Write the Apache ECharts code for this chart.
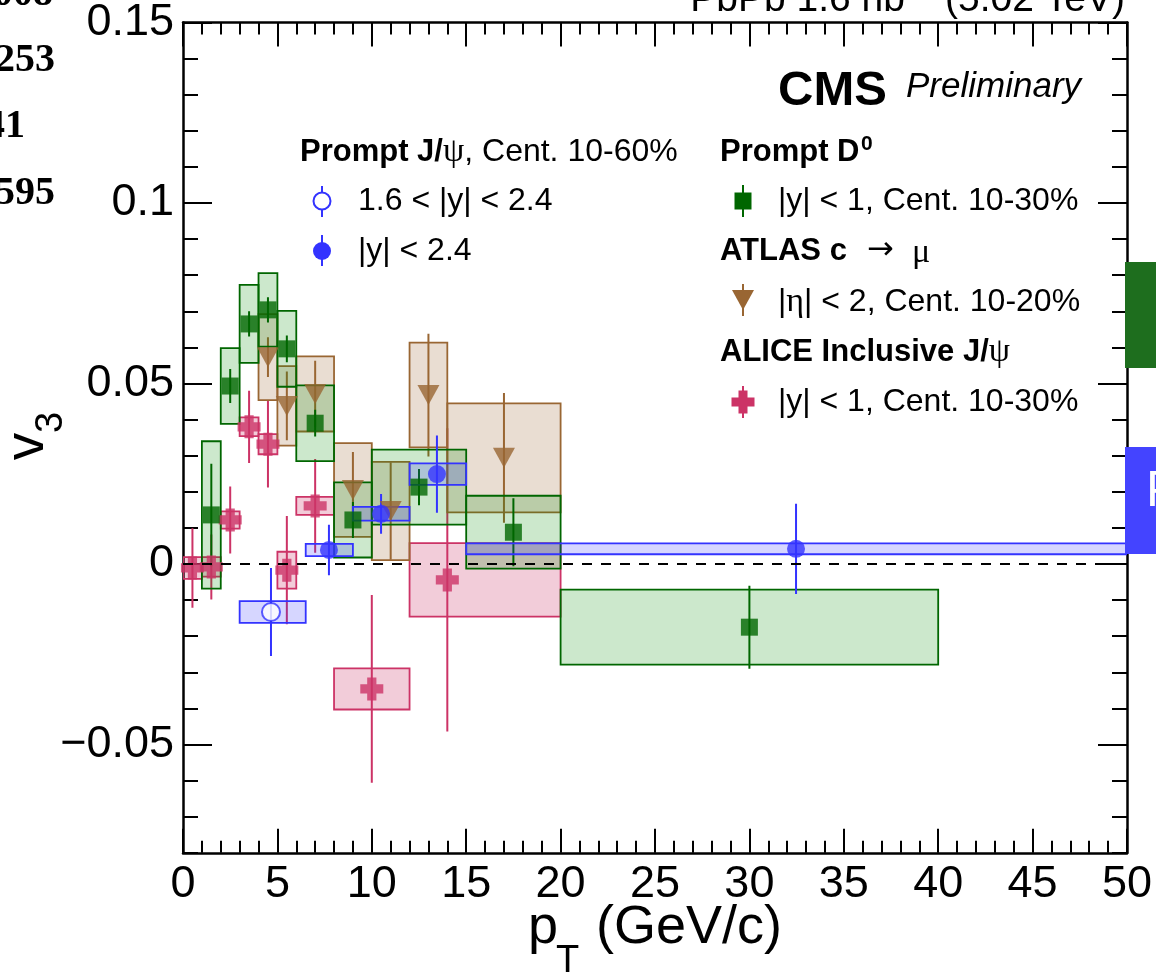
<!DOCTYPE html>
<html>
<head>
<meta charset="utf-8">
<script src="https://cdn.jsdelivr.net/npm/echarts@6/dist/echarts.min.js"></script>
<style>
  html, body { margin: 0; padding: 0; background: #fff; }
  #chart { width: 1156px; height: 975px; }
</style>
</head>
<body>
<div id="chart"></div>
<script>
// ---- axis ticks ----
const xTickValues = [0, 5, 10, 15, 20, 25, 30, 35, 40, 45, 50];
const xTickLabels = ['0', '5', '10', '15', '20', '25', '30', '35', '40', '45', '50'];
const yTickValues = [-0.05, 0, 0.05, 0.1, 0.15];
const yTickLabels = ['\u22120.05', '0', '0.05', '0.1', '0.15'];

// ---- CMS prompt D0, |y| < 1, Cent. 10-30% ----
const d0Pt    = [1.5, 2.5, 3.5, 4.5, 5.5, 7, 9, 12.5, 17.5, 30];
const d0V3    = [0.0136, 0.0493, 0.0665, 0.0704, 0.0596, 0.0390, 0.0122, 0.0213, 0.0088, -0.0175];
const d0Stat  = [0.0142, 0.0047, 0.0035, 0.0035, 0.0037, 0.0037, 0.0050, 0.0050, 0.0094, 0.0115];
const d0Sys   = [0.0204, 0.0105, 0.0108, 0.0102, 0.0105, 0.0105, 0.0104, 0.0104, 0.0101, 0.0104];
const d0BinLo = [1, 2, 3, 4, 5, 6, 8, 10, 15, 20];
const d0BinHi = [2, 3, 4, 5, 6, 8, 10, 15, 20, 40];

// ---- ATLAS c -> mu, |eta| < 2, Cent. 10-20% ----
const atlasPt    = [4.5, 5.5, 7, 9, 11, 13, 17];
const atlasV3    = [0.0573, 0.0438, 0.0471, 0.0205, 0.0147, 0.0468, 0.0294];
const atlasStat  = [0.0055, 0.0095, 0.0092, 0.0105, 0.0135, 0.0170, 0.0180];
const atlasSys   = [0.0119, 0.0110, 0.0104, 0.0130, 0.0136, 0.0145, 0.0151];
const atlasBinLo = [4, 5, 6, 8, 10, 12, 14];
const atlasBinHi = [5, 6, 8, 10, 12, 14, 20];

// ---- ALICE inclusive J/psi, |y| < 1, Cent. 10-30% ----
const alicePt    = [0.5, 1.5, 2.5, 3.5, 4.5, 5.5, 7, 10, 14];
const aliceV3    = [-0.0011, -0.0008, 0.0122, 0.0380, 0.0332, -0.0017, 0.0161, -0.0346, -0.0044];
const aliceStat  = [0.0110, 0.0090, 0.0093, 0.0100, 0.0120, 0.0150, 0.0130, 0.0260, 0.0420];
const aliceSys   = [0.0030, 0.0027, 0.0024, 0.0026, 0.0028, 0.0051, 0.0025, 0.0057, 0.0102];
const aliceBinLo = [0, 1, 2, 3, 4, 5, 6, 8, 12];
const aliceBinHi = [1, 2, 3, 4, 5, 6, 8, 12, 20];

// ---- CMS prompt J/psi, Cent. 10-60%, 1.6 < |y| < 2.4 ----
const jpsiFwdPt    = [4.66];
const jpsiFwdV3    = [-0.0133];
const jpsiFwdStat  = [0.0122];
const jpsiFwdSys   = [0.0030];
const jpsiFwdBinLo = [3];
const jpsiFwdBinHi = [6.5];

// ---- CMS prompt J/psi, Cent. 10-60%, |y| < 2.4 ----
const jpsiPt    = [7.73, 10.49, 13.45, 32.47];
const jpsiV3    = [0.0039, 0.0139, 0.0249, 0.0042];
const jpsiStat  = [0.0070, 0.0055, 0.0107, 0.0125];
const jpsiSys   = [0.0017, 0.0019, 0.0030, 0.0015];
const jpsiBinLo = [6.5, 9, 12, 15];
const jpsiBinHi = [9, 12, 15, 50];

// ---- colours ----
const GREEN = '#006600', BROWN = '#996633', PINK = '#cc3366', BLUE = '#3333ff';
const GREEN_FILL = 'rgba(0,140,0,0.20)';
const BROWN_FILL = 'rgba(153,102,51,0.22)';
const PINK_FILL  = 'rgba(204,51,102,0.25)';
const BLUE_FILL  = 'rgba(51,51,255,0.20)';

const SANS = 'Liberation Sans, Arial, Helvetica, sans-serif';
const SERIF = 'Liberation Serif, DejaVu Serif, serif';
const CROSS = 'path://M3,0H7V3H10V7H7V10H3V7H0V3H3Z';

function tickLabel(values, labels) {
  return function (v) {
    const i = values.findIndex(t => Math.abs(t - v) < 1e-9);
    return i >= 0 ? labels[i] : '';
  };
}

// systematic-uncertainty boxes
function boxSeries(lo, hi, v, sys, stroke, fill) {
  return {
    type: 'custom', xAxisIndex: 0, yAxisIndex: 0, z: 2, clip: true, silent: true,
    data: lo.map((l, i) => [l, hi[i], v[i] - sys[i], v[i] + sys[i]]),
    encode: { x: [0, 1], y: [2, 3] },
    renderItem: function (params, api) {
      const p1 = api.coord([api.value(0), api.value(3)]);
      const p2 = api.coord([api.value(1), api.value(2)]);
      return {
        type: 'rect',
        shape: { x: p1[0], y: p1[1], width: p2[0] - p1[0], height: p2[1] - p1[1] },
        style: { fill: fill, stroke: stroke, lineWidth: 1.8 }
      };
    }
  };
}

// statistical error bars
function statSeries(x, v, stat, color) {
  return {
    type: 'custom', xAxisIndex: 0, yAxisIndex: 0, z: 2, clip: true, silent: true,
    data: x.map((xi, i) => [xi, v[i] - stat[i], v[i] + stat[i]]),
    encode: { x: 0, y: [1, 2] },
    renderItem: function (params, api) {
      const a = api.coord([api.value(0), api.value(1)]);
      const b = api.coord([api.value(0), api.value(2)]);
      return {
        type: 'line',
        shape: { x1: a[0], y1: a[1], x2: b[0], y2: b[1] },
        style: { stroke: color, lineWidth: 2 }
      };
    }
  };
}

function markerSeries(x, v, symbol, size, itemStyle, rotate) {
  return {
    type: 'scatter', xAxisIndex: 0, yAxisIndex: 0, z: 2, silent: true,
    symbol: symbol, symbolSize: size, symbolRotate: rotate || 0,
    itemStyle: itemStyle,
    data: x.map((xi, i) => [xi, v[i]])
  };
}

function majorAxis(pos, isX) {
  const ax = {
    type: 'value', position: pos, gridIndex: 0,
    min: isX ? 0 : -0.08, max: isX ? 50 : 0.15,
    axisLine: { show: true, onZero: false, lineStyle: { color: '#000', width: 2.5 } },
    axisTick: { show: true, inside: true, length: isX ? 24 : 29,
                customValues: isX ? xTickValues : yTickValues,
                lineStyle: { color: '#000', width: 2 } },
    axisLabel: { show: false },
    splitLine: { show: false }
  };
  if (pos === 'bottom' || pos === 'left') {
    ax.axisLabel = {
      show: true, color: '#000', fontFamily: SANS, fontSize: 45,
      margin: isX ? 9 : 9,
      customValues: isX ? xTickValues : yTickValues,
      formatter: isX ? tickLabel(xTickValues, xTickLabels) : tickLabel(yTickValues, yTickLabels)
    };
  }
  return ax;
}

function minorAxis(pos, isX) {
  return {
    type: 'value', position: pos, gridIndex: 0,
    min: isX ? 0 : -0.08, max: isX ? 50 : 0.15,
    interval: isX ? 1 : 0.01,
    axisLine: { show: false, onZero: false },
    axisTick: { show: true, inside: true, length: isX ? 12 : 15,
                lineStyle: { color: '#000', width: 2 } },
    axisLabel: { show: false },
    splitLine: { show: false }
  };
}

function txt(x, y, text, o) {
  o = o || {};
  return {
    type: 'text', x: x, y: y, z: 100, rotation: o.rotation || 0, silent: true,
    style: {
      text: text, fill: o.color || '#000',
      fontFamily: o.family || SANS, fontSize: o.size || 32,
      fontWeight: o.weight || 'normal', fontStyle: o.style || 'normal',
      align: o.align || 'left', textAlign: o.align || 'left',
      verticalAlign: 'middle', textVerticalAlign: 'middle',
      rich: o.rich
    }
  };
}

function vline(x, y1, y2, color) {
  return { type: 'line', z: 100, silent: true, shape: { x1: x, y1: y1, x2: x, y2: y2 },
           style: { stroke: color, lineWidth: 2 } };
}

const B = { fontFamily: SANS, fontSize: 31, fontWeight: 'bold' };
const R = { fontFamily: SANS, fontSize: 32 };
const G = { fontFamily: SERIF, fontSize: 34 };

const graphics = [
  // header and side annotations
  txt(905, 0.5, 'PbPb 1.6 nb', { size: 39, align: 'right' }),
  txt(907, -13, '\u22121', { size: 27 }),
  txt(1125, 0.5, '(5.02 TeV)', { size: 39, align: 'right' }),
  txt(53, -5.5, '008', { family: SERIF, size: 40, weight: 'bold', align: 'right' }),
  txt(55, 60.5, '253', { family: SERIF, size: 40, weight: 'bold', align: 'right' }),
  txt(25, 126.5, '41', { family: SERIF, size: 40, weight: 'bold', align: 'right' }),
  txt(55, 193.5, '595', { family: SERIF, size: 40, weight: 'bold', align: 'right' }),
  { type: 'rect', z: 100, silent: true, shape: { x: 1125, y: 262, width: 31, height: 106 }, style: { fill: '#1e6e1e' } },
  { type: 'rect', z: 100, silent: true, shape: { x: 1125, y: 447, width: 31, height: 107 }, style: { fill: '#4444ff' } },
  txt(1146, 492, 'P', { size: 50, color: '#fff' }),

  // CMS label
  txt(778, 91, 'CMS', { size: 49, weight: 'bold' }),
  txt(906, 87, 'Preliminary', { size: 35, style: 'italic' }),

  // axis titles
  txt(28, 446.5, 'v', { size: 55, align: 'center', rotation: Math.PI / 2 }),
  txt(52, 422.5, '3', { size: 38, align: 'center', rotation: Math.PI / 2 }),
  txt(528, 928, 'p', { size: 54 }),
  txt(556, 962, 'T', { size: 38 }),
  txt(596, 928, '(GeV/c)', { size: 54 }),

  // legend: CMS prompt J/psi
  txt(300, 152, '{b|Prompt J/}{g|\u03c8}{r|, Cent. 10-60%}', { rich: { b: B, g: G, r: R } }),
  vline(322, 186, 217, BLUE),
  { type: 'circle', z: 101, silent: true, shape: { cx: 322, cy: 201, r: 8.5 }, style: { fill: '#fff', stroke: BLUE, lineWidth: 2 } },
  txt(358, 201, '1.6 < |y| < 2.4', { size: 32 }),
  vline(322, 235, 266, BLUE),
  { type: 'circle', z: 101, silent: true, shape: { cx: 322, cy: 251, r: 9 }, style: { fill: BLUE } },
  txt(358, 251, '|y| < 2.4', { size: 32 }),

  // legend: prompt D0
  txt(720, 152, 'Prompt D', { size: 31, weight: 'bold' }),
  txt(861, 144, '0', { size: 21, weight: 'bold' }),
  vline(743, 185, 217, GREEN),
  { type: 'rect', z: 101, silent: true, shape: { x: 734.5, y: 192.5, width: 17, height: 17 }, style: { fill: GREEN } },
  txt(778, 201, '|y| < 1, Cent. 10-30%', { size: 32 }),

  // legend: ATLAS
  txt(720, 251, 'ATLAS c', { size: 31, weight: 'bold' }),
  txt(867, 251, '\u2192', { size: 32, family: 'DejaVu Sans, sans-serif' }),
  txt(912, 253, '\u03bc', { size: 34, family: SERIF }),
  vline(743, 284, 316, BROWN),
  { type: 'polygon', z: 101, silent: true, shape: { points: [[732, 290], [754, 290], [743, 310]] }, style: { fill: BROWN } },
  txt(778, 302, '|{g|\u03b7}| < 2, Cent. 10-20%', { size: 32, rich: { g: G } }),

  // legend: ALICE
  txt(720, 352, '{b|ALICE Inclusive J/}{g|\u03c8}', { rich: { b: B, g: G } }),
  vline(743, 386, 418, PINK),
  { type: 'polygon', z: 101, silent: true,
    shape: { points: [[738.5, 390.5], [747.5, 390.5], [747.5, 397.5], [754.5, 397.5], [754.5, 406.5], [747.5, 406.5], [747.5, 413.5], [738.5, 413.5], [738.5, 406.5], [731.5, 406.5], [731.5, 397.5], [738.5, 397.5]] },
    style: { fill: PINK } },
  txt(778, 402, '|y| < 1, Cent. 10-30%', { size: 32 })
];

const option = {
  animation: false,
  backgroundColor: '#fff',
  textStyle: { fontFamily: SANS },
  grid: { left: 183, right: 29, top: 22.5, bottom: 122.2, containLabel: false },
  xAxis: [majorAxis('bottom', true), minorAxis('bottom', true), majorAxis('top', true), minorAxis('top', true)],
  yAxis: [majorAxis('left', false), minorAxis('left', false), majorAxis('right', false), minorAxis('right', false)],
  series: [
    // ALICE
    boxSeries(aliceBinLo, aliceBinHi, aliceV3, aliceSys, PINK, PINK_FILL),
    statSeries(alicePt, aliceV3, aliceStat, PINK),
    markerSeries(alicePt, aliceV3, CROSS, 23, { color: PINK }),
    // ATLAS
    boxSeries(atlasBinLo, atlasBinHi, atlasV3, atlasSys, BROWN, BROWN_FILL),
    statSeries(atlasPt, atlasV3, atlasStat, BROWN),
    markerSeries(atlasPt, atlasV3, 'triangle', [22, 20], { color: BROWN }, 180),
    // CMS D0
    boxSeries(d0BinLo, d0BinHi, d0V3, d0Sys, GREEN, GREEN_FILL),
    statSeries(d0Pt, d0V3, d0Stat, GREEN),
    markerSeries(d0Pt, d0V3, 'rect', 17, { color: GREEN }),
    // CMS J/psi
    boxSeries(jpsiFwdBinLo, jpsiFwdBinHi, jpsiFwdV3, jpsiFwdSys, BLUE, BLUE_FILL),
    statSeries(jpsiFwdPt, jpsiFwdV3, jpsiFwdStat, BLUE),
    markerSeries(jpsiFwdPt, jpsiFwdV3, 'circle', 18, { color: '#fff', borderColor: BLUE, borderWidth: 2 }),
    boxSeries(jpsiBinLo, jpsiBinHi, jpsiV3, jpsiSys, BLUE, BLUE_FILL),
    statSeries(jpsiPt, jpsiV3, jpsiStat, BLUE),
    markerSeries(jpsiPt, jpsiV3, 'circle', 18, { color: BLUE }),
    // zero reference
    {
      type: 'line', xAxisIndex: 0, yAxisIndex: 0, z: 3, silent: true, symbol: 'none',
      data: [[0, 0], [50, 0]],
      lineStyle: { color: '#000', width: 2, type: [10, 9] }
    }
  ],
  graphic: { elements: graphics }
};

const chart = echarts.init(document.getElementById('chart'), null, { renderer: 'canvas' });
chart.setOption(option);
</script>
</body>
</html>
